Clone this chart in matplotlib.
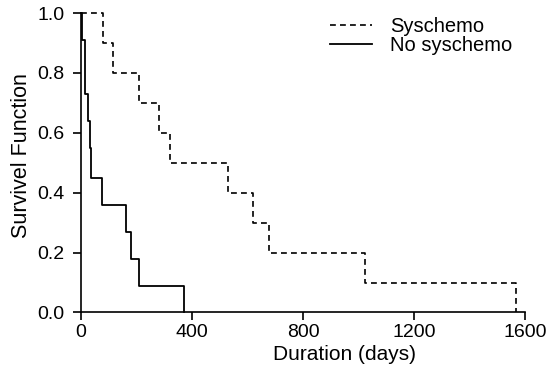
import matplotlib
matplotlib.use("Agg")
import matplotlib.pyplot as plt

plt.rcParams['font.family'] = ['Liberation Sans', 'DejaVu Sans']

syschemo_days = [0, 78, 114, 209, 280, 321, 529, 621, 677, 1023, 1566]
syschemo_surv = [1.0, 0.9, 0.8, 0.7, 0.6, 0.5, 0.4, 0.3, 0.2, 0.1, 0.0]
nosys_days = [0, 2, 14, 24, 32, 35, 76, 161, 180, 210, 371]
nosys_surv = [1.0, 0.91, 0.73, 0.64, 0.55, 0.45, 0.36, 0.27, 0.18, 0.09, 0.0]

xticks = [0, 400, 800, 1200, 1600]
yticks = [0.0, 0.2, 0.4, 0.6, 0.8, 1.0]

fig = plt.figure(figsize=(5.57, 3.75), dpi=100)
ax = fig.add_axes([0.1454, 0.1667, 0.7971, 0.7986])

ax.plot(syschemo_days, syschemo_surv, drawstyle='steps-post', color='black',
        lw=1.2, dashes=(3.5, 2.5), label='Syschemo', clip_on=False)
ax.plot(nosys_days, nosys_surv, drawstyle='steps-post', color='black',
        lw=1.3, label='No syschemo', clip_on=False)

ax.set_xlim(0, 1600)
ax.set_ylim(0, 1.0)
ax.set_xticks(xticks)
ax.set_yticks(yticks)
ax.set_yticklabels(['%.1f' % v for v in yticks])
ax.spines['top'].set_visible(False)
ax.spines['right'].set_visible(False)
for s in ['left', 'bottom']:
    ax.spines[s].set_linewidth(1.2)
ax.tick_params(direction='out', length=6, width=1.2, labelsize=14)
ax.tick_params(axis='y', pad=6)
ax.tick_params(axis='x', pad=2)

ax.set_xlabel('Duration (days)', fontsize=15, labelpad=3, x=0.593)
ax.set_ylabel('Survivel Function', fontsize=15.5, labelpad=4, y=0.523)

ax.legend(loc='upper right', bbox_to_anchor=(0.935, 0.975), bbox_transform=fig.transFigure,
          borderaxespad=0, frameon=False, fontsize=14.5, handlelength=2.1,
          handletextpad=0.9, labelspacing=0.0)

fig.savefig('out.png', dpi=100)
